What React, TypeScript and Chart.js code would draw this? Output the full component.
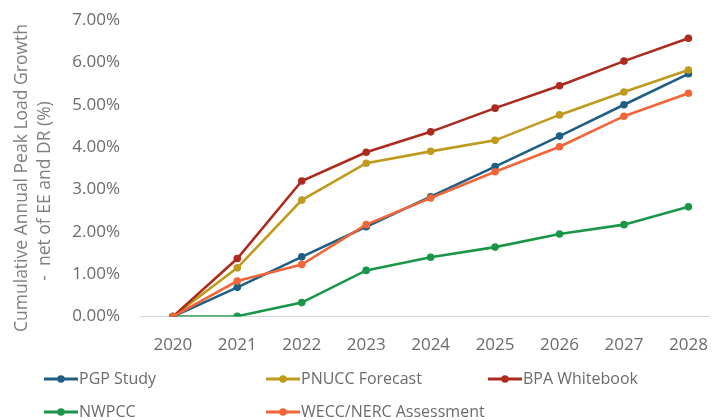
import React, { useEffect, useRef } from "react";
import { Chart, registerables } from "chart.js";

Chart.register(...registerables);

const years = [2020, 2021, 2022, 2023, 2024, 2025, 2026, 2027, 2028];

const pgpStudy = [0, 0.69, 1.41, 2.12, 2.83, 3.54, 4.26, 5.0, 5.73];
const pnuccForecast = [0, 1.15, 2.75, 3.62, 3.9, 4.16, 4.76, 5.3, 5.82];
const bpaWhitebook = [0, 1.37, 3.2, 3.88, 4.36, 4.92, 5.45, 6.03, 6.57];
const nwpcc = [0, 0.01, 0.33, 1.09, 1.4, 1.64, 1.95, 2.17, 2.59];
const weccNercAssessment = [0, 0.84, 1.23, 2.17, 2.8, 3.42, 4.01, 4.73, 5.27];

const yTicks = [0, 1, 2, 3, 4, 5, 6, 7];

const seriesLabels = [
  "PGP Study",
  "PNUCC Forecast",
  "BPA Whitebook",
  "NWPCC",
  "WECC/NERC Assessment",
];
const seriesColors = ["#1f5f84", "#bf9a1c", "#ad2a1f", "#1a9648", "#f0663a"];
const seriesValues = [pgpStudy, pnuccForecast, bpaWhitebook, nwpcc, weccNercAssessment];

const axisTitleLines = ["Cumulative Annual Peak Load Growth", "-  net of EE and DR (%)"];

const FONT = "'Open Sans', 'DejaVu Sans', sans-serif";

// Rotated two-line y-axis title and a grid-aligned legend under the plot.
const decorations = {
  id: "decorations",
  afterDraw(chart: any) {
    const ctx = chart.ctx as CanvasRenderingContext2D;
    ctx.save();
    // axis title
    ctx.fillStyle = "#7f7f7f";
    ctx.font = `17.5px ${FONT}`;
    ctx.textAlign = "center";
    ctx.textBaseline = "middle";
    const centers = [178, 191];
    axisTitleLines.forEach((line, i) => {
      ctx.save();
      ctx.translate(22 + i * 23, centers[i]);
      ctx.rotate(-Math.PI / 2);
      ctx.fillText(line, 0, 0);
      ctx.restore();
    });
    ctx.restore();

    // legend
    ctx.save();
    const colX = [44, 266, 488];
    const rowY = [379, 412];
    ctx.font = `16px ${FONT}`;
    ctx.textAlign = "left";
    ctx.textBaseline = "middle";
    chart.data.datasets.forEach((ds: any, i: number) => {
      const x = colX[i % 3];
      const y = rowY[Math.floor(i / 3)];
      ctx.strokeStyle = ds.borderColor;
      ctx.lineWidth = 3;
      ctx.beginPath();
      ctx.moveTo(x, y);
      ctx.lineTo(x + 34, y);
      ctx.stroke();
      ctx.fillStyle = ds.borderColor;
      ctx.beginPath();
      ctx.arc(x + 17, y, 3.8, 0, Math.PI * 2);
      ctx.fill();
      ctx.fillStyle = "#6b6b6b";
      ctx.fillText(ds.label, x + 35, y);
    });
    ctx.restore();
  },
};

export default function App() {
  const canvasRef = useRef<HTMLCanvasElement | null>(null);

  useEffect(() => {
    const canvas = canvasRef.current;
    if (!canvas) return;
    const drawOrder = [4, 3, 2, 1, 0];
    const chart = new Chart(canvas, {
      type: "line",
      data: {
        datasets: seriesLabels.map((label, i) => ({
          label,
          data: years.map((yr, j) => ({ x: yr, y: seriesValues[i][j] })),
          borderColor: seriesColors[i],
          backgroundColor: seriesColors[i],
          borderWidth: 2.6,
          pointRadius: 3.8,
          pointBorderWidth: 0,
          pointBackgroundColor: seriesColors[i],
          tension: 0,
          order: drawOrder[i],
        })),
      },
      options: {
        animation: false,
        responsive: false,
        maintainAspectRatio: false,
        layout: { padding: { left: 0, right: 0, top: 20, bottom: 47 } },
        plugins: {
          legend: { display: false },
          tooltip: { enabled: false },
        },
        scales: {
          x: {
            type: "linear",
            min: 2019.49,
            max: 2028.33,
            afterBuildTicks: (scale: any) => {
              scale.ticks = years.map((v) => ({ value: v }));
            },
            grid: { display: false, drawTicks: false },
            border: { display: true, color: "#d4d4d4", width: 1 },
            ticks: {
              padding: 18,
              color: "#6b6b6b",
              font: { family: FONT, size: 17 },
              maxRotation: 0,
              autoSkip: false,
              callback: (v: any) => String(v),
            },
          },
          y: {
            min: 0,
            max: 7,
            afterBuildTicks: (scale: any) => {
              scale.ticks = yTicks.map((v) => ({ value: v }));
            },
            afterFit: (scale: any) => {
              scale.width = 140;
              scale.paddingTop = 0;
              scale.paddingBottom = 0;
            },
            grid: { display: false, drawTicks: false },
            border: { display: false },
            ticks: {
              padding: 20,
              color: "#6b6b6b",
              font: { family: FONT, size: 17 },
              callback: (v: any) => `${Number(v).toFixed(2)}%`,
            },
          },
        },
      },
      plugins: [decorations],
    });
    return () => chart.destroy();
  }, []);

  return (
    <div
      style={{
        position: "fixed",
        left: 0,
        top: 0,
        width: 726,
        height: 420,
        background: "#ffffff",
      }}
    >
      <canvas ref={canvasRef} width={726} height={420} style={{ display: "block" }} />
    </div>
  );
}
